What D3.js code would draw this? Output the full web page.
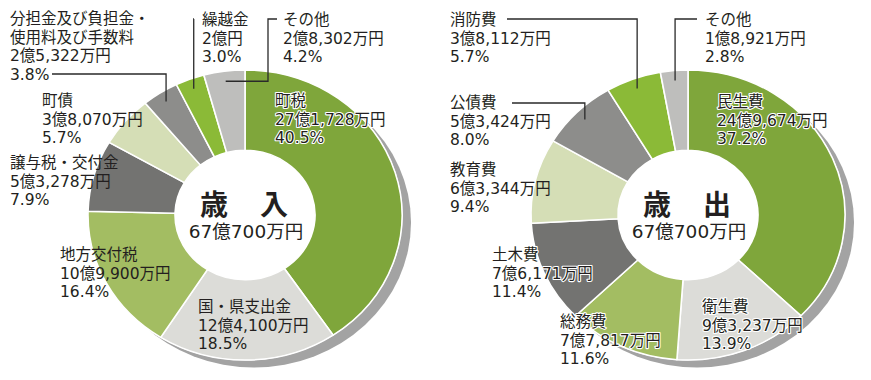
<!DOCTYPE html>
<html><head><meta charset="utf-8">
<script src="https://cdn.jsdelivr.net/npm/d3@7"></script>
<style>
html,body{margin:0;padding:0;background:#fff;}
svg{display:block;}
text{font-family:"DejaVu Sans","Noto Sans CJK JP","Noto Sans",sans-serif;fill:#231f20;}
text.title{font-family:"Noto Sans CJK JP",sans-serif;}
</style></head>
<body>
<svg id="c" width="871" height="380"></svg>
<script>
// ---- data (amounts in 万円) ----
const revenueNames = ["町税","国・県支出金","地方交付税","譲与税・交付金","町債","分担金及び負担金・\n使用料及び手数料","繰越金","その他"];
const revenueValues = [271728,124100,109900,53278,38070,25322,20000,28302];
const revenuePercents = [40.5,18.5,16.4,7.9,5.7,3.8,3.0,4.2];
const expenseNames = ["民生費","衛生費","総務費","土木費","教育費","公債費","消防費","その他"];
const expenseValues = [249674,93237,77817,76171,63344,53424,38112,18921];
const expensePercents = [37.2,13.9,11.6,11.4,9.4,8.0,5.7,2.8];
const titles = ["歳　入","歳　出"];
const totals = [670700,670700];

// ---- styling / layout ----
const sliceColors = ["#7fa63b","#dcdcd8","#a3bd62","#737371","#d5deb6","#8d8d8b","#8bba37","#bebebc"];
const R = 157, R0 = 70, yScale = 0.924;
const charts = [
  {cx:245, cy:215, names:revenueNames, values:revenueValues, pct:revenuePercents,
   labelPos:[[275,101],[198,307],[60,255],[10,163],[42,101],[10,19],[202,20],[283,20]],
   halo:[0],
   leaders:[
     {i:5, start:[52,74]},
     {i:6, start:[194,19]},
     {i:7, start:[277,19], corner:268}
   ]},
  {cx:688, cy:215, names:expenseNames, values:expenseValues, pct:expensePercents,
   labelPos:[[717,102],[702,307],[560,322],[492,255],[450,170],[450,103],[450,20],[705,20]],
   halo:[0,1,2,3],
   leaders:[
     {i:5, start:[512,103]},
     {i:6, start:[507,19]},
     {i:7, start:[697,19]}
   ]}
];

function fmtAmount(v){
  const oku = Math.floor(v/10000), man = v % 10000;
  return man > 0 ? oku + "億" + d3.format(",")(man) + "万円" : oku + "億円";
}

const svg = d3.select("#c");
const pie = d3.pie().sort(null).value(d=>d);
const arc = d3.arc().innerRadius(R0).outerRadius(R);
const LH = 18.5;

charts.forEach((c, ci) => {
  const arcs = pie(c.values);
  const g = svg.append("g").attr("transform", `translate(${c.cx},${c.cy}) scale(1,${yScale})`);
  // shadow
  g.append("circle").attr("cx", 9).attr("cy", 8).attr("r", R).attr("fill", "#a3a3a3");
  g.append("circle").attr("cx", 0).attr("cy", 0).attr("r", R+0.5).attr("fill", "#fff");
  g.selectAll("path.s").data(arcs).enter().append("path")
    .attr("class","s")
    .attr("d", arc)
    .attr("fill", (d,i)=>sliceColors[i])
    .attr("stroke", "#fff").attr("stroke-width", 1.6).attr("stroke-linejoin","round");

  // leader lines
  c.leaders.forEach(L => {
    const a = arcs[L.i];
    const mid = (a.startAngle + a.endAngle)/2;
    const rr = R*0.93;
    const ex = c.cx + rr*Math.sin(mid);
    const ey = c.cy - rr*Math.cos(mid)*yScale;
    const cx = L.corner !== undefined ? L.corner : ex;
    const pts = [L.start, [cx, L.start[1]], [cx, ey], [ex, ey]];
    svg.append("path").attr("d", d3.line()(pts))
      .attr("fill","none").attr("stroke","#2a2a2a").attr("stroke-width",1.3);
  });

  // labels
  c.names.forEach((n, i) => {
    const [x, y] = c.labelPos[i];
    const lines = n.split("\n").concat([fmtAmount(c.values[i]), c.pct[i].toFixed(1) + "%"]);
    const t = svg.append("text").attr("x", x).attr("y", y)
      .attr("font-size", 15.5).attr("dominant-baseline","central");
    if (c.halo.includes(i)) {
      t.attr("stroke","#fff").attr("stroke-width",2.2).attr("paint-order","stroke").attr("stroke-linejoin","round");
    }
    lines.forEach((ln, k) => {
      t.append("tspan").attr("x", x).attr("y", y + k*LH).text(ln);
    });
  });

  // center text
  svg.append("text").attr("class","title").attr("x", c.cx).attr("y", 203).attr("text-anchor","middle")
    .attr("dominant-baseline","central").attr("font-size", 28).attr("font-weight", 700)
    .attr("letter-spacing", 2).text(titles[ci]);
  svg.append("text").attr("x", c.cx + 1).attr("y", 231).attr("text-anchor","middle")
    .attr("dominant-baseline","central").attr("font-size", 18.5)
    .text(fmtAmount(totals[ci]));
});
</script>
</body></html>
